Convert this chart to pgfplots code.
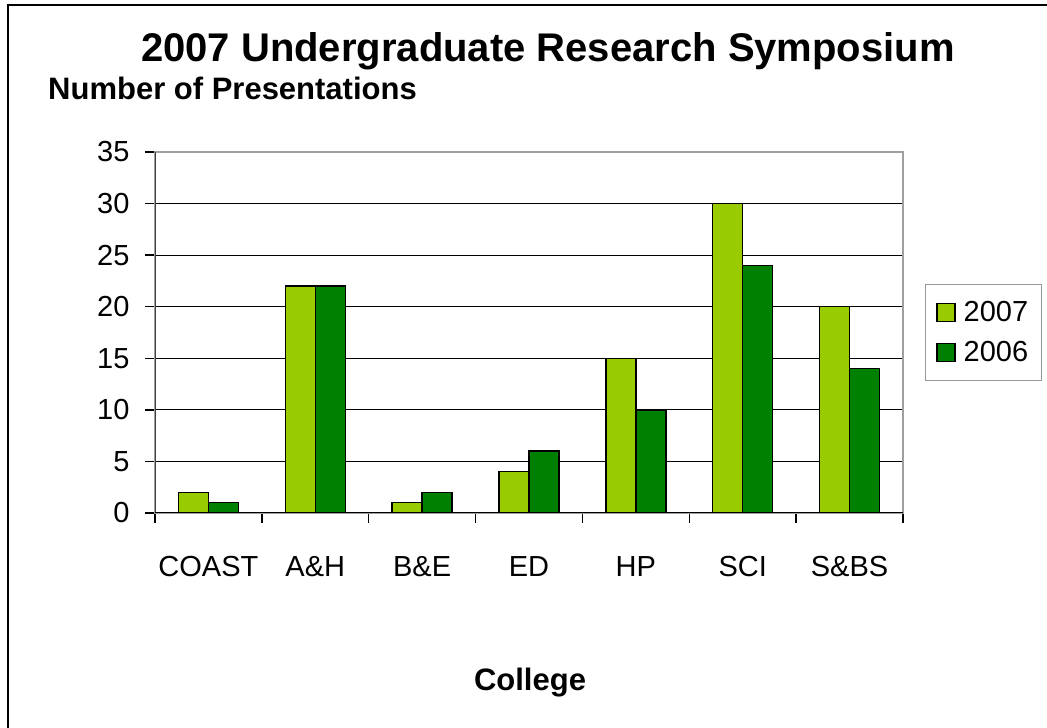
\documentclass[border=0pt]{standalone}
\usepackage{fontspec}
\setmainfont{Liberation Sans}
\usepackage{pgfplots}
\pgfplotsset{compat=1.18}
\definecolor{c2007}{HTML}{99CC00}
\definecolor{c2006}{HTML}{008000}
\begin{document}
\begin{tikzpicture}
\useasboundingbox (0pt,0pt) rectangle (1047pt,728pt);
\draw[line width=2pt] (7.5pt,722.5pt) rectangle (1090pt,-30pt);
\begin{axis}[
  at={(155pt,215pt)}, anchor=south west,
  scale only axis, width=748pt, height=361pt,
  ymin=0, ymax=35, ytick={0,5,...,35},
  xmin=-0.5, xmax=6.5,
  xtick={-0.5,0.5,1.5,2.5,3.5,4.5,5.5,6.5},
  x tick label as interval,
  xticklabels={COAST,A\&H,B\&E,ED,HP,SCI,S\&BS},
  ybar=0pt, bar width=30pt,
  ymajorgrids, major grid style={black, line width=1.1pt},
  axis line style={gray!75, line width=1.3pt},
  tick style={black, line width=1.3pt},
  major tick length=10pt, tick align=outside, tick pos=left,
  /pgf/number format/assume math mode=true,
  ticklabel style={font=\fontsize{29}{29}\selectfont},
  xticklabel style={yshift=-30pt},
  yticklabel style={xshift=-12pt},
  legend style={at={(1.0294,0.634)}, anchor=north west, draw=gray!80, line width=1pt,
    font=\fontsize{29}{29}\selectfont, inner xsep=11pt, inner ysep=15pt, row sep=14pt,
    cells={anchor=west}},
  legend image code/.code={\draw[#1, line width=1.2pt] (0pt,-9pt) rectangle (18pt,9pt); \path (24pt,0pt);},
]
\addplot[fill=c2007, draw=black, line width=1.3pt] coordinates {(0,2) (1,22) (2,1) (3,4) (4,15) (5,30) (6,20)};
\addplot[fill=c2006, draw=black, line width=1.3pt] coordinates {(0,1) (1,22) (2,2) (3,6) (4,10) (5,24) (6,14)};
\legend{2007,2006}
\draw[black!75, line width=2pt] (rel axis cs:0,0) -- (rel axis cs:0,1);
\draw[black, line width=1.3pt] (rel axis cs:0,0) -- (rel axis cs:1,0);
\end{axis}
\node[anchor=base, font=\bfseries\fontsize{40}{40}\selectfont] at (548pt,666pt) {2007 Undergraduate Research Symposium};
\node[anchor=base west, inner sep=0pt, font=\bfseries\fontsize{31}{31}\selectfont] at (48pt,628pt) {Number of Presentations};
\node[anchor=base, font=\bfseries\fontsize{31}{31}\selectfont] at (530pt,37pt) {College};
\end{tikzpicture}
\end{document}
